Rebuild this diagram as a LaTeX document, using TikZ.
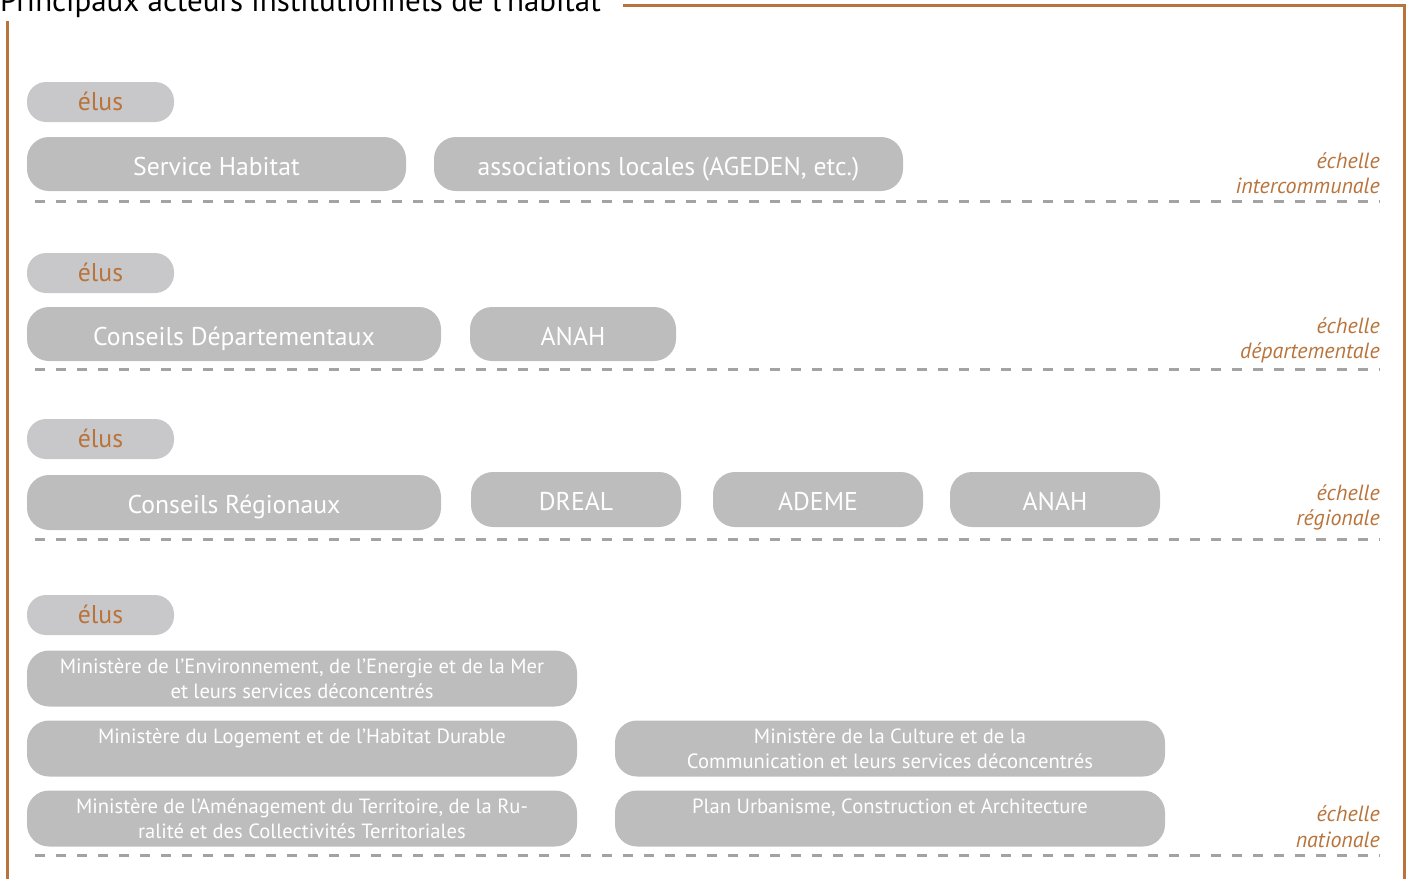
\documentclass[tikz,border=0pt]{standalone}
\usepackage{fontspec}
\setmainfont{PT Sans}
\definecolor{brn}{RGB}{184,116,60}
\definecolor{boxg}{RGB}{189,189,189}
\definecolor{elug}{RGB}{200,200,202}
\definecolor{dashg}{RGB}{163,163,163}
\begin{document}
\begin{tikzpicture}[x=1pt,y=-1pt,
  elubox/.style={fill=elug, rounded corners=19pt, minimum width=147pt, minimum height=40pt, inner sep=0pt, text=brn, text height=16pt, text depth=0pt, font=\fontsize{25.7}{30}\selectfont},
  bigbox/.style={fill=boxg, rounded corners=22pt, minimum height=54pt, inner sep=0pt, text=white, text height=22pt, text depth=0pt, font=\fontsize{25.7}{30}\selectfont},
  minbox/.style={fill=boxg, rounded corners=22pt, minimum width=550pt, minimum height=56pt, inner sep=0pt, text=white, align=center, font=\fontsize{20.6}{25}\selectfont},
  scale label/.style={anchor=east, align=right, text=brn, inner sep=0pt, font=\fontsize{22}{25.5}\selectfont\itshape},
  sep/.style={draw=dashg, line width=3pt, dash pattern=on 10pt off 11pt},
  frame/.style={draw=brn, line width=3pt}]
\useasboundingbox (0,0) rectangle (1410,878);
% frame and title
\node[anchor=base west, inner sep=0pt, font=\fontsize{31}{34}\selectfont] (title) at (0,12) {Principaux acteurs institutionnels de l’habitat};
\draw[frame] (7,880) -- (7,21);
\draw[frame] (623,5) -- (1404,5) -- (1404,880);
% intercommunale
\node[elubox] (e1) at (100.5,102) {élus};
\node[bigbox, minimum width=379pt] (sh) at (216.5,164) {Service Habitat};
\node[bigbox, minimum width=469pt] (assoc) at (668.5,164) {associations locales (AGEDEN, etc.)};
\node[scale label] (l1) at (1380,173) {échelle\\intercommunale};
\draw[sep] (35,201) -- (1380,201);
% departementale
\node[elubox] (e2) at (100.5,273) {élus};
\node[bigbox, minimum width=414pt] (cd) at (234,334) {Conseils Départementaux};
\node[bigbox, minimum width=206pt] (anah1) at (573,334) {ANAH};
\node[scale label] (l2) at (1380,340.5) {échelle\\départementale};
\draw[sep] (35,369) -- (1380,369);
% regionale
\node[elubox] (e3) at (100.5,439) {élus};
\node[bigbox, minimum width=414pt, minimum height=55pt] (cr) at (234,502.5) {Conseils Régionaux};
\node[bigbox, minimum width=210pt, minimum height=55pt] (dreal) at (576,499.5) {DREAL};
\node[bigbox, minimum width=210pt, minimum height=55pt] (ademe) at (818,499.5) {ADEME};
\node[bigbox, minimum width=210pt, minimum height=55pt] (anah2) at (1055,499.5) {ANAH};
\node[scale label] (l3) at (1380,507.5) {échelle\\régionale};
\draw[sep] (35,539) -- (1380,539);
% nationale
\node[elubox] (e4) at (100.5,615) {élus};
\node[minbox] (menv) at (302,678.5) {Ministère de l’Environnement, de l’Energie et de la Mer\\et leurs services déconcentrés};
\node[minbox] (mlog) at (302,748.5) {Ministère du Logement et de l’Habitat Durable\\\mbox{}};
\node[minbox] (mcult) at (890,748.5) {Ministère de la Culture et de la\\Communication et leurs services déconcentrés};
\node[minbox] (mamen) at (302,818.5) {Ministère de l’Aménagement du Territoire, de la Ru-\\ralité et des Collectivités Territoriales};
\node[minbox] (puca) at (890,818.5) {Plan Urbanisme, Construction et Architecture\\\mbox{}};
\node[scale label] (l4) at (1380,826.5) {échelle\\nationale};
\draw[sep] (35,855) -- (1380,855);
\end{tikzpicture}
\end{document}
